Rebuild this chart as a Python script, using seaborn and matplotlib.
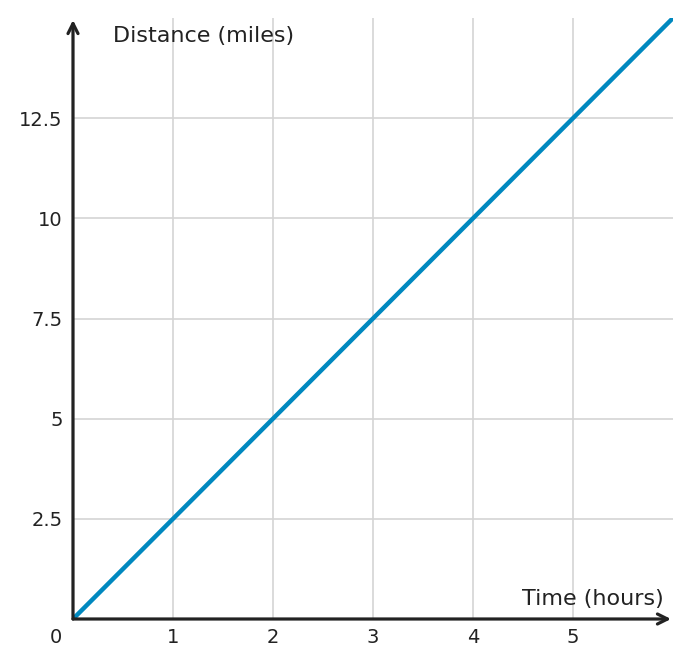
import matplotlib
matplotlib.use("Agg")
import matplotlib.pyplot as plt
import seaborn as sns
import pandas as pd

# data
time_hours = [0, 6]
distance_miles = [0, 15]
x_ticks = [1, 2, 3, 4, 5]
y_ticks = [2.5, 5, 7.5, 10, 12.5]
y_tick_labels = ["2.5", "5", "7.5", "10", "12.5"]

sns.set_style("white")
plt.rcParams['font.family'] = ['DejaVu Sans']

fig = plt.figure(figsize=(6.93, 6.68), dpi=100)
ax = fig.add_axes([73 / 693, 49 / 668, 600 / 693, 601 / 668])

df = pd.DataFrame({"time": time_hours, "distance": distance_miles})
sns.lineplot(data=df, x="time", y="distance", ax=ax, color="#0088bf", linewidth=3.2)

ax.set_xlim(0, 6)
ax.set_ylim(0, 15)
ax.set_xticks(x_ticks)
ax.set_yticks(y_ticks)
ax.set_yticklabels(y_tick_labels)
ax.set_xlabel("")
ax.set_ylabel("")
ax.grid(True, color="#d4d4d4", linewidth=1.2)
ax.set_axisbelow(True)
for s in ax.spines.values():
    s.set_visible(False)

txt = "#222222"
ax.tick_params(axis="both", colors=txt, labelsize=14, length=5, width=1.5, direction="inout")
ax.tick_params(axis="x", pad=4)
ax.tick_params(axis="y", pad=5)

# axes with arrowheads
ax.annotate("", xy=(5.98, 0), xytext=(0, 0), xycoords="data",
            arrowprops=dict(arrowstyle="->", color=txt, lw=2.3, mutation_scale=18, shrinkA=0, shrinkB=0),
            annotation_clip=False)
ax.annotate("", xy=(0, 14.95), xytext=(0, 0), xycoords="data",
            arrowprops=dict(arrowstyle="->", color=txt, lw=2.3, mutation_scale=18, shrinkA=0, shrinkB=0),
            annotation_clip=False)

ax.text(-0.17, -0.47, "0", color=txt, fontsize=14, ha="center", va="center")
ax.text(0.4, 14.55, "Distance (miles)", color=txt, fontsize=16, ha="left", va="center")
ax.text(5.91, 0.5, "Time (hours)", color=txt, fontsize=16, ha="right", va="center")

plt.savefig("out.png", dpi=100)
